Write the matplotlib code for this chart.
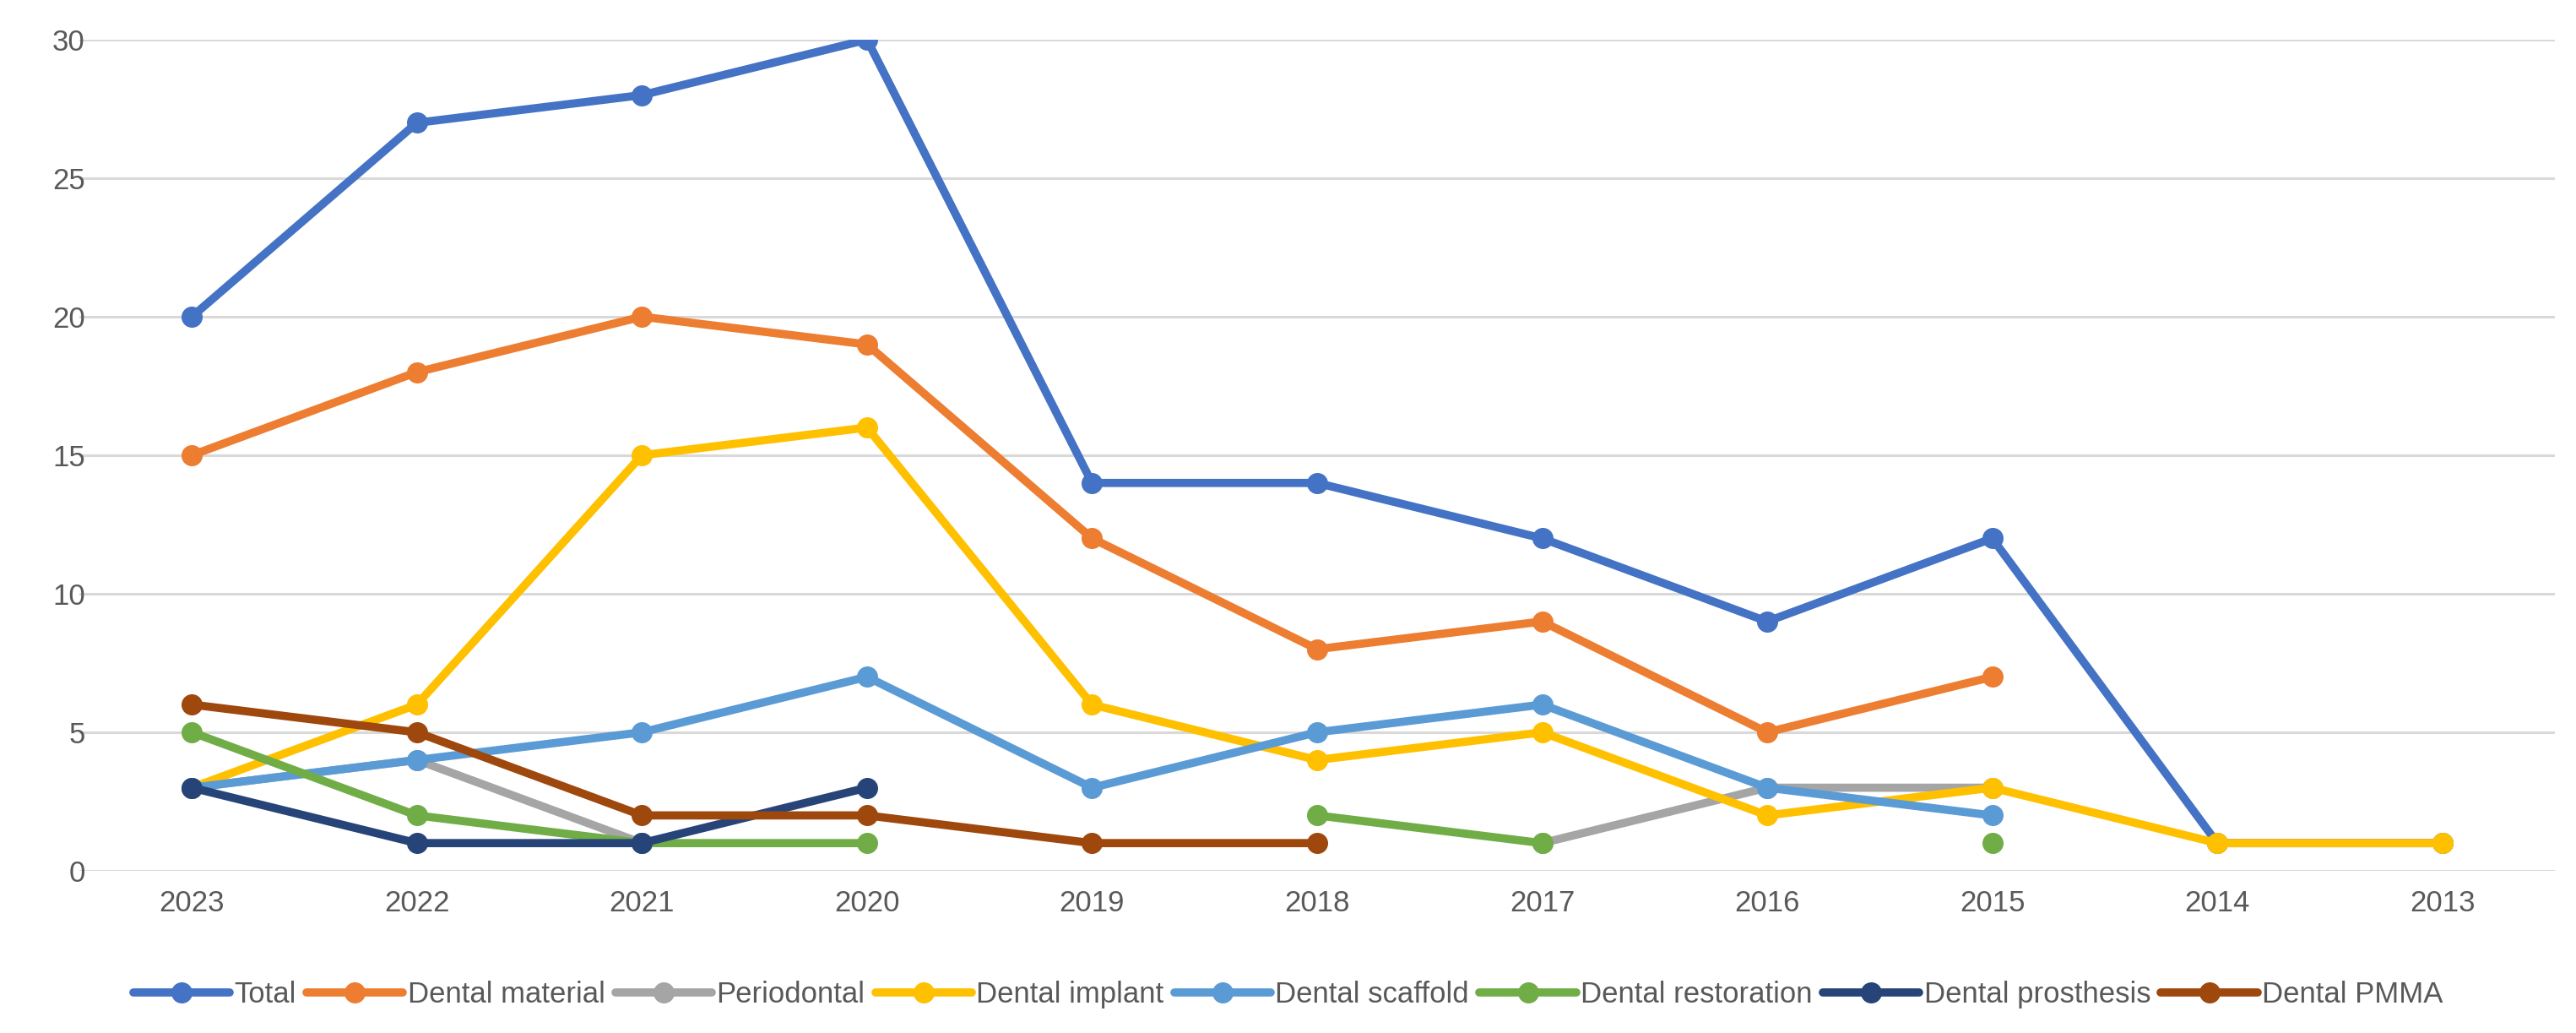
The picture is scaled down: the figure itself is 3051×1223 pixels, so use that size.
import numpy as np
import matplotlib
matplotlib.use('Agg')
import matplotlib.pyplot as plt

nan = np.nan

# data
years = ["2023", "2022", "2021", "2020", "2019", "2018", "2017", "2016", "2015", "2014", "2013"]
total = [20, 27, 28, 30, 14, 14, 12, 9, 12, 1, 1]
dental_material = [15, 18, 20, 19, 12, 8, 9, 5, 7, nan, nan]
periodontal = [3, 4, 1, nan, nan, nan, 1, 3, 3, nan, nan]
dental_implant = [3, 6, 15, 16, 6, 4, 5, 2, 3, 1, 1]
dental_scaffold = [3, 4, 5, 7, 3, 5, 6, 3, 2, nan, nan]
dental_restoration = [5, 2, 1, 1, nan, 2, 1, nan, 1, nan, nan]
dental_prosthesis = [3, 1, 1, 3, nan, nan, nan, nan, nan, nan, nan]
dental_pmma = [6, 5, 2, 2, 1, 1, nan, nan, nan, nan, nan]

series = [
    ("Total", total, "#4472C4"),
    ("Dental material", dental_material, "#ED7D31"),
    ("Periodontal", periodontal, "#A5A5A5"),
    ("Dental implant", dental_implant, "#FFC000"),
    ("Dental scaffold", dental_scaffold, "#5B9BD5"),
    ("Dental restoration", dental_restoration, "#70AD47"),
    ("Dental prosthesis", dental_prosthesis, "#264478"),
    ("Dental PMMA", dental_pmma, "#9E480E"),
]

plt.rcParams['font.family'] = ['Liberation Sans', 'DejaVu Sans']

fig = plt.figure(figsize=(30.51, 12.23), dpi=100)
ax = fig.add_axes([0.0308, 0.157, 0.961, 0.8046])

x = np.arange(len(years))
for name, vals, col in series:
    ax.plot(x, vals, color=col, lw=7, marker='o', ms=17, label=name,
            solid_capstyle='round', zorder=3)

ax.set_xlim(-0.5, len(years) - 0.5)
ax.set_ylim(0, 30)
ax.set_yticks(range(0, 31, 5))
ax.set_xticks(x)
ax.set_xticklabels(years)
ax.tick_params(length=0, labelsize=25, labelcolor="#595959", pad=16)
ax.tick_params(axis='y', pad=-5)
ax.grid(axis='y', color="#D9D9D9", lw=2.2)
ax.set_axisbelow(True)
for s in ax.spines.values():
    s.set_visible(False)

fig.legend(loc='center', bbox_to_anchor=(0.500, 0.037), ncol=8, frameon=False,
           fontsize=25, handlelength=3.3, handletextpad=0.15, columnspacing=0.35,
           labelcolor="#595959")

plt.savefig('out.png', dpi=100)
